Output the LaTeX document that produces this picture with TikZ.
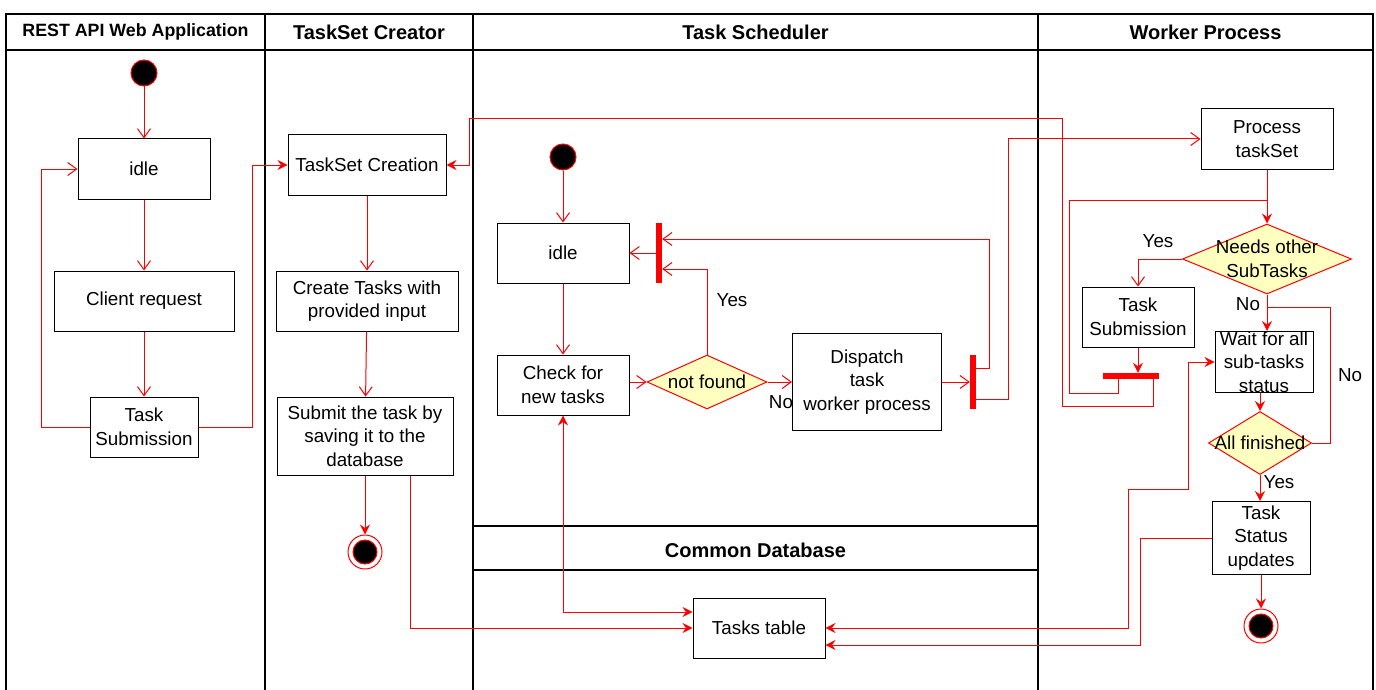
\documentclass[tikz,border=0pt]{standalone}
\usepackage{fontspec}
\setmainfont{Liberation Sans}
\usetikzlibrary{arrows.meta,shapes.geometric,calc}
\definecolor{flow}{HTML}{FF0000}
\definecolor{decide}{HTML}{FFFFC0}

\begin{document}
\begin{tikzpicture}[x=1pt,y=-1pt,
  font=\fontsize{18.8}{23.5}\selectfont,
  box/.style={draw=black, line width=1pt, fill=white, inner sep=0pt, align=center},
  dia/.style={diamond, draw=flow, fill=decide, line width=1pt, inner sep=0pt},
  txt/.style={inner sep=0pt, align=center},
  bar/.style={rectangle, fill=flow, draw=none, inner sep=0pt},
  startdot/.style={circle, fill=black, draw=flow, line width=1pt, minimum size=26pt, inner sep=0pt},
  enddot/.style={circle, fill=white, draw=flow, line width=1pt, minimum size=34pt, inner sep=0pt},
  lane/.style={line width=1.2pt, draw=black},
  flowline/.style={draw=flow, line width=1pt},
  openarr/.style={flowline, -{Straight Barb[length=9pt,width=13pt]}},
  fillarr/.style={flowline, -{Stealth[length=10pt,width=10pt,inset=3.5pt]}},
  bothfill/.style={flowline, {Stealth[length=10pt,width=10pt,inset=3.5pt]}-{Stealth[length=10pt,width=10pt,inset=3.5pt]}},
  lbl/.style={inner sep=0pt},
  head/.style={inner sep=0pt, font=\fontsize{20}{24}\selectfont\bfseries},
]
\useasboundingbox (0,0) rectangle (1376,690);

% swimlane frame
\draw[lane] (6,690) -- (6,14) -- (1373,14) -- (1373,690);
\draw[lane] (6,50) -- (1373,50);
\draw[lane] (265,14) -- (265,690);
\draw[lane] (473,14) -- (473,690);
\draw[lane] (1038,14) -- (1038,690);
\draw[lane] (473,526) -- (1038,526);
\draw[lane] (473,570) -- (1038,570);

\node[head, font=\fontsize{17.8}{22}\selectfont\bfseries] (h1) at (135.5,32) {REST API Web Application};
\node[head] (h2) at (369,32) {TaskSet Creator};
\node[head] (h3) at (755.5,32) {Task Scheduler};
\node[head] (h4) at (1205.5,32) {Worker Process};
\node[head] (h5) at (755.5,550) {Common Database};

% REST API lane
\node[startdot] (s1) at (144,73) {};
\node[box, minimum width=132, minimum height=60] (idle1) at (144,169) {idle};
\node[box, minimum width=180, minimum height=60] (req) at (144,301) {Client request};
\node[box, minimum width=108, minimum height=60] (sub1) at (144,427) {Task\\Submission};

% TaskSet Creator lane
\node[box, minimum width=158, minimum height=60] (tsc) at (367,165) {TaskSet Creation};
\node[box, minimum width=182, minimum height=60] (ctw) at (367,301) {Create Tasks with\\provided input};
\node[box, minimum width=176, minimum height=78] (sav) at (365,436) {Submit the task by\\saving it to the\\database};
\node[enddot] (e2) at (365,552) {};
\filldraw[fill=black, draw=flow, line width=1pt] (e2.center) circle (12pt);

% Task Scheduler lane
\node[startdot] (s3) at (563,157) {};
\node[box, minimum width=132, minimum height=60] (idle3) at (563,253) {idle};
\node[box, minimum width=132, minimum height=60] (chk) at (563,385) {Check for\\new tasks};
\node[dia, minimum width=120, minimum height=54] (nf) at (707,382) {};
\node[txt] at (nf) {not found};
\node[box, minimum width=149, minimum height=97] (dsp) at (867,382) {Dispatch\\task\\worker process};
\node[bar, minimum width=6, minimum height=60] (bar1) at (659,253) {};
\node[bar, minimum width=6, minimum height=54] (bar2) at (973,382) {};
\node[box, minimum width=132, minimum height=60] (tt) at (759,628) {Tasks table};

% Worker Process lane
\node[box, minimum width=132, minimum height=60] (pts) at (1267,139) {Process\\taskSet};
\node[dia, minimum width=169, minimum height=70] (nos) at (1267,259) {};
\node[txt] at (nos) {Needs other\\SubTasks};
\node[box, minimum width=112, minimum height=60] (ts4) at (1138,317) {Task\\Submission};
\node[bar, minimum width=56, minimum height=6] (bar3) at (1131,376) {};
\node[box, minimum width=98, minimum height=61] (wait) at (1264,362) {};
\node[txt] at (wait) {Wait for all\\sub-tasks\\status};
\node[dia, minimum width=103, minimum height=63] (alf) at (1260,443) {};
\node[txt] at (alf) {All finished};
\node[box, minimum width=98, minimum height=73] (tsu) at (1261,538) {Task\\Status\\updates};
\node[enddot] (e4) at (1261,626) {};
\filldraw[fill=black, draw=flow, line width=1pt] (e4.center) circle (12pt);

\coordinate (j1) at ($(pts.south)+(0,31)$);
\coordinate (j2) at ($(nos.south)+(0,13)$);

% REST API flow
\draw[openarr] (s1) -- (idle1);
\draw[openarr] (idle1) -- (req);
\draw[openarr] (req) -- (sub1);
\draw[openarr] (sub1.west) -- ++(-48,0) |- (idle1.west);
\draw[fillarr] (sub1.east) -- ++(54,0) |- (tsc.west);

% TaskSet Creator flow
\draw[openarr] (tsc) -- (ctw);
\draw[openarr] (ctw) -- (sav);
\draw[fillarr] (sav.south) -- (e2.north);
\draw[fillarr] ([xshift=45pt]sav.south) |- (tt.west);

% Task Scheduler flow
\draw[openarr] (s3) -- (idle3);
\draw[openarr] (idle3) -- (chk);
\draw[openarr] (chk.east |- nf.west) -- (nf.west);
\draw[openarr] (nf.east) -- (dsp.west |- nf.east);
\node[lbl] at (781,402) {No};
\draw[openarr] (nf.north) |- ($(bar1.east)+(0,16)$);
\node[lbl] at (732,300) {Yes};
\draw[openarr] (bar1.west) -- (idle3.east);
\draw[openarr] (dsp.east |- bar2.west) -- (bar2.west);
\draw[openarr] ($(bar2.east)+(0,-14)$) -- ++(13,0) |- ($(bar1.east)+(0,-14)$);
\draw[openarr] ($(bar2.east)+(0,17)$) -- ++(32,0) |- (pts.west);
\draw[bothfill] (chk.south) |- ($(tt.west)+(0,-16)$);

% Worker Process flow
\draw[fillarr] (pts.south) -- (nos.north);
\draw[flowline] ($(bar3.south)+(-13,0)$) -- ++(0,14) -- ++(-49,0) |- (j1);
\draw[fillarr] ($(bar3.south)+(22,0)$) -- ++(0,27) -| (1062,119) -| ($(tsc.east)+(23,0)$) -- (tsc.east);
\draw[openarr] (nos.west) -| (ts4.north);
\node[lbl] at (1158,241) {Yes};
\draw[fillarr] (ts4.south) -- (ts4.south |- bar3.north);
\draw[fillarr] (nos.south) -- (nos.south |- wait.north);
\node[lbl] at (1248,304) {No};
\draw[flowline] (alf.east) -- ++(18,0) |- (j2);
\node[lbl] at (1350,375) {No};
\draw[fillarr] (alf.north |- wait.south) -- (alf.north);
\draw[fillarr] (alf.south) -- (alf.south |- tsu.north);
\node[lbl] at (1279,482) {Yes};
\draw[fillarr] (tsu.south) -- (e4.north);
\draw[fillarr] (tsu.west) -- ++(-71,0) |- ($(tt.east)+(0,17)$);
\draw[bothfill] (tt.east) -| (1128,489) -| ($(wait.west)+(-26,0)$) -- (wait.west);
\end{tikzpicture}
\end{document}
